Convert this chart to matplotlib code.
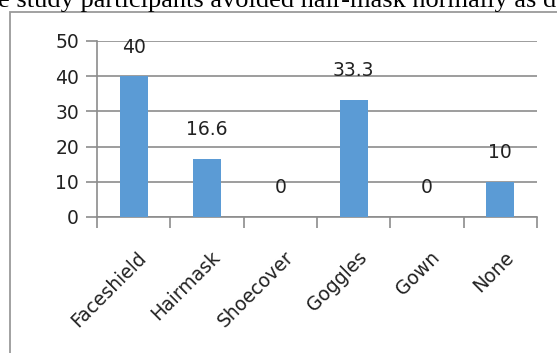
import matplotlib
matplotlib.use('Agg')
import matplotlib.pyplot as plt
import matplotlib.transforms as mtransforms
from matplotlib.patches import Rectangle
import numpy as np

categories = ['Faceshield', 'Hairmask', 'Shoecover', 'Goggles', 'Gown', 'None']
values = [40, 16.6, 0, 33.3, 0, 10]
value_labels = ['40', '16.6', '0', '33.3', '0', '10']
yticks = [0, 10, 20, 30, 40, 50]

bar_color = '#5B9BD5'
grid_color = '#8c8c8c'
text_color = '#222222'

plt.rcParams['font.family'] = ['DejaVu Sans']

fig = plt.figure(figsize=(5.57, 3.53), dpi=100)

# cropped line of body text above the chart
fig.text(-0.003, 1 - 7.5 / 353, 'e study participants avoided hair-mask normally as d',
         family='Liberation Serif', fontsize=19, color='black', ha='left', va='baseline')

# chart frame
fig.patches.append(Rectangle((10 / 557, -0.1), 1.2, 1.1 - 12 / 353, transform=fig.transFigure,
                             fill=False, edgecolor='#9a9a9a', linewidth=1.3))

ax = fig.add_axes([97 / 557, 1 - 217 / 353, 440 / 557, 176 / 353])
x = np.arange(len(categories))
ax.bar(x, values, width=0.38, color=bar_color, zorder=3)

for xi, v, lab in zip(x, values, value_labels):
    ax.annotate(lab, (xi, v), xytext=(0, 21), textcoords='offset points',
                ha='center', va='center', fontsize=13.5, color=text_color)

ax.set_xlim(-0.5, len(categories) - 0.5)
ax.set_ylim(0, 50)
ax.set_yticks(yticks)
ax.set_yticklabels([str(t) for t in yticks], fontsize=13.5, color=text_color)
ax.yaxis.grid(True, color=grid_color, linewidth=1.2, zorder=0)
ax.tick_params(axis='y', length=8, width=1.2, color=grid_color, pad=5)

ax.set_xticks(x)
ax.set_xticklabels(categories, fontsize=13.5, color=text_color, rotation=45,
                   ha='right', va='center', rotation_mode='anchor')
ax.set_xticks(np.arange(-0.5, len(categories)), minor=True)
ax.tick_params(axis='x', which='major', length=0, pad=27)
ax.tick_params(axis='x', which='minor', length=8, width=1.2, color=grid_color)
offset = mtransforms.ScaledTranslation(10 / 100, 0, fig.dpi_scale_trans)
for lab in ax.get_xticklabels():
    lab.set_transform(lab.get_transform() + offset)

for side in ['top', 'right']:
    ax.spines[side].set_visible(False)
for side in ['left', 'bottom']:
    ax.spines[side].set_color(grid_color)
    ax.spines[side].set_linewidth(1.2)

fig.savefig('out.png', dpi=100)
